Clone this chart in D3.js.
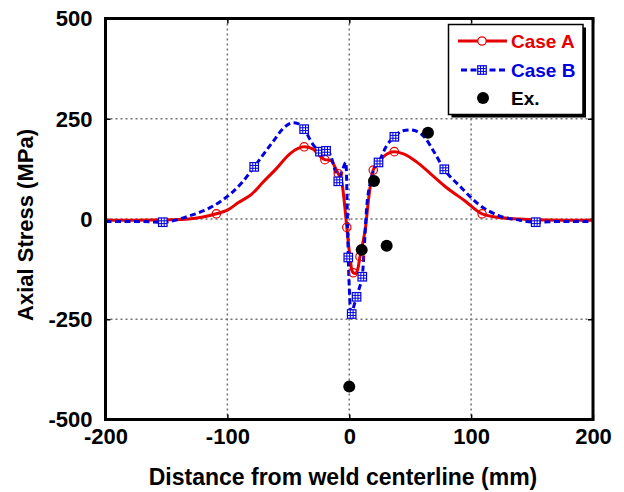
<!DOCTYPE html>
<html>
<head>
<meta charset="utf-8">
<script src="https://cdn.jsdelivr.net/npm/d3@7"></script>
<style>
  html, body { margin: 0; padding: 0; background: #fff; }
  svg { display: block; font-family: "Liberation Sans", Arial, sans-serif; }
</style>
</head>
<body>
<svg id="chart" width="624" height="492"></svg>
<script>
// ---------- data ----------
const caseAx = [-200,-175,-150,-132,-120,-109,-100,-91,-80,-71,-60,-49,-42,-37,-30,-25,-20,-15,-11,-9,-6,-3.3,-2,0.3,2.2,3.3,5,7,8.8,11,13.3,16,19.7,23,28.6,37,45,55,67,80,95,109,125,140,150,175,200];
const caseAy = [-3,-3,-2,0,5,13,22,41,62,91,125,162,176,180,175,160,148,146,125,113,90,20,-21,-88,-128,-134,-136,-125,-94,-62,-22,53,122,137,157,168,162,143,112,78,45,13,3,0,-2,-3,-3];
const caseAMarkX = [-109,-37,-20,-9,-2,3.3,8.8,19.7,37,109];

const caseBx = [-200,-175,-153,-132,-120,-105,-88,-78,-64,-52,-46,-42,-37,-30,-24,-19,-17,-13,-9,-6,-2.7,-1.6,-0.8,0.3,1.3,2,4,6,8.5,10.7,12.5,14.3,17,21,24,30.7,37,44,50,56,62,70,78,92,106,123,140,153,175,200];
const caseBy = [-6,-6,-8,7,20,45,91,130,187,232,240,238,224,187,168,170,168,137,94,118,141,20,-96,-190,-245,-237,-215,-194,-170,-144,-60,29,87,129,141,183,205,220,222,218,203,165,124,78,37,8,-3,-8,-6,-6];
const caseBMarkX = [-153,-78,-37,-24,-19,-9,-0.8,2,6,10.7,24,37,78,153];

const expX = [0,10.2,20.3,30.7,64.6];
const expY = [-418,-77,95,-67,215];

const xTicks = [-200,-100,0,100,200];
const yTicks = [-500,-250,0,250,500];
const xGrid = [-100,0,100];
const yGrid = [-250,0,250];

const legendLabels = ["Case A","Case B","Ex."];
const colA = "#e60000", colB = "#0000e0";

// ---------- layout ----------
const svg = d3.select("#chart");
const L = 105.5, R = 593, T = 18.5, B = 419.5;
const x = d3.scaleLinear().domain([-200,200]).range([L,R]);
const y = d3.scaleLinear().domain([-500,500]).range([B,T]);

svg.append("defs").append("clipPath").attr("id","clip")
  .append("rect").attr("x",L).attr("y",T).attr("width",R-L).attr("height",B-T);

// grid
const grid = svg.append("g").attr("stroke","#707070").attr("stroke-width",1.5).attr("stroke-dasharray","2,3");
grid.selectAll("line.gx").data(xGrid).join("line")
  .attr("x1",d=>x(d)).attr("x2",d=>x(d)).attr("y1",T).attr("y2",B);
grid.selectAll("line.gy").data(yGrid).join("line")
  .attr("y1",d=>y(d)).attr("y2",d=>y(d)).attr("x1",L).attr("x2",R);

// axes (ticks inward, labels)
const fmt = d => String(d);
const axB = d3.axisBottom(x).tickValues(xTicks).tickSize(-5).tickPadding(9).tickFormat(fmt);
const axL = d3.axisLeft(y).tickValues(yTicks).tickSize(-5).tickPadding(13).tickFormat(fmt);
const axT = d3.axisTop(x).tickValues(xTicks).tickSize(-5).tickFormat("");
const axR = d3.axisRight(y).tickValues(yTicks).tickSize(-5).tickFormat("");
function styleAxis(g, dy){
  g.select(".domain").remove();
  g.selectAll(".tick line").attr("stroke","#000").attr("stroke-width",1.5);
  g.selectAll(".tick text").attr("fill","#000").attr("font-size",22).attr("font-weight","bold")
   .attr("font-family","'Liberation Sans', Arial, sans-serif").attr("dy",dy);
}
svg.append("g").attr("transform",`translate(0,${B})`).call(axB).call(styleAxis,"0.72em");
svg.append("g").attr("transform",`translate(${L},0)`).call(axL).call(styleAxis,"0.33em");
svg.append("g").attr("transform",`translate(0,${T})`).call(axT).call(styleAxis,null);
svg.append("g").attr("transform",`translate(${R},0)`).call(axR).call(styleAxis,null);

// lines
const plot = svg.append("g").attr("clip-path","url(#clip)");
const lineA = d3.line().x(d=>x(d[0])).y(d=>y(d[1])).curve(d3.curveMonotoneX);
const dataA = caseAx.map((v,i)=>[v,caseAy[i]]);
const dataB = caseBx.map((v,i)=>[v,caseBy[i]]);

plot.append("path").datum(dataA).attr("d",lineA).attr("fill","none")
  .attr("stroke",colA).attr("stroke-width",3).attr("stroke-linejoin","round");
plot.append("path").datum(dataB).attr("d",lineA).attr("fill","none")
  .attr("stroke",colB).attr("stroke-width",3).attr("stroke-dasharray","6,3.5");

// markers A
const mA = caseAMarkX.map(v=>dataA.find(d=>d[0]===v));
plot.selectAll("circle.mA").data(mA).join("circle")
  .attr("cx",d=>x(d[0])).attr("cy",d=>y(d[1])).attr("r",4.2)
  .attr("fill","none").attr("stroke",colA).attr("stroke-width",1.2);

// markers B (hatched squares)
function sqMarker(g, cx, cy){
  const s = 8.5, h = s/2;
  g.append("rect").attr("x",cx-h).attr("y",cy-h).attr("width",s).attr("height",s)
    .attr("fill","#fff").attr("stroke",colB).attr("stroke-width",1.2);
  [1/3,2/3].forEach(f=>{
    g.append("line").attr("x1",cx-h+s*f).attr("x2",cx-h+s*f).attr("y1",cy-h).attr("y2",cy+h)
      .attr("stroke",colB).attr("stroke-width",1);
    g.append("line").attr("y1",cy-h+s*f).attr("y2",cy-h+s*f).attr("x1",cx-h).attr("x2",cx+h)
      .attr("stroke",colB).attr("stroke-width",1);
  });
}
const mB = caseBMarkX.map(v=>dataB.find(d=>d[0]===v));
const gB = plot.append("g");
mB.forEach(d=>sqMarker(gB, x(d[0]), y(d[1])));

// experimental
plot.selectAll("circle.ex").data(expX.map((v,i)=>[v,expY[i]])).join("circle")
  .attr("cx",d=>x(d[0])).attr("cy",d=>y(d[1])).attr("r",6).attr("fill","#000");

// frame
svg.append("rect").attr("x",L).attr("y",T).attr("width",R-L).attr("height",B-T)
  .attr("fill","none").attr("stroke","#000").attr("stroke-width",3);

// axis titles
svg.append("text").attr("x",343).attr("y",485).attr("text-anchor","middle")
  .attr("font-size",23).attr("font-weight","bold").text("Distance from weld centerline (mm)");
svg.append("text").attr("transform","translate(33,225) rotate(-90)").attr("text-anchor","middle")
  .attr("font-size",22).attr("font-weight","bold").text("Axial Stress (MPa)");

// legend
const lg = svg.append("g");
const lx = 448.5, ly = 24.5, lw = 134.5, lh = 90;
lg.append("rect").attr("x",lx+3).attr("y",ly+3).attr("width",lw).attr("height",lh).attr("fill","#000");
lg.append("rect").attr("x",lx).attr("y",ly).attr("width",lw).attr("height",lh)
  .attr("fill","#fff").attr("stroke","#000").attr("stroke-width",1.5);
const rows = [41, 70, 98];
// Case A
lg.append("line").attr("x1",458).attr("x2",507).attr("y1",rows[0]).attr("y2",rows[0])
  .attr("stroke",colA).attr("stroke-width",3);
lg.append("circle").attr("cx",482).attr("cy",rows[0]).attr("r",4.2).attr("fill","#fff")
  .attr("stroke",colA).attr("stroke-width",1.2);
// Case B
lg.append("line").attr("x1",461).attr("x2",505).attr("y1",rows[1]).attr("y2",rows[1])
  .attr("stroke",colB).attr("stroke-width",3).attr("stroke-dasharray","6,3.5");
sqMarker(lg, 482, rows[1]);
// Ex
lg.append("circle").attr("cx",483).attr("cy",rows[2]).attr("r",6).attr("fill","#000");
const lcols = [colA, colB, "#000"];
legendLabels.forEach((t,i)=>{
  lg.append("text").attr("x",511).attr("y",rows[i]+7).attr("font-size",19).attr("font-weight","bold")
    .attr("fill",lcols[i]).text(t);
});
</script>
</body>
</html>
